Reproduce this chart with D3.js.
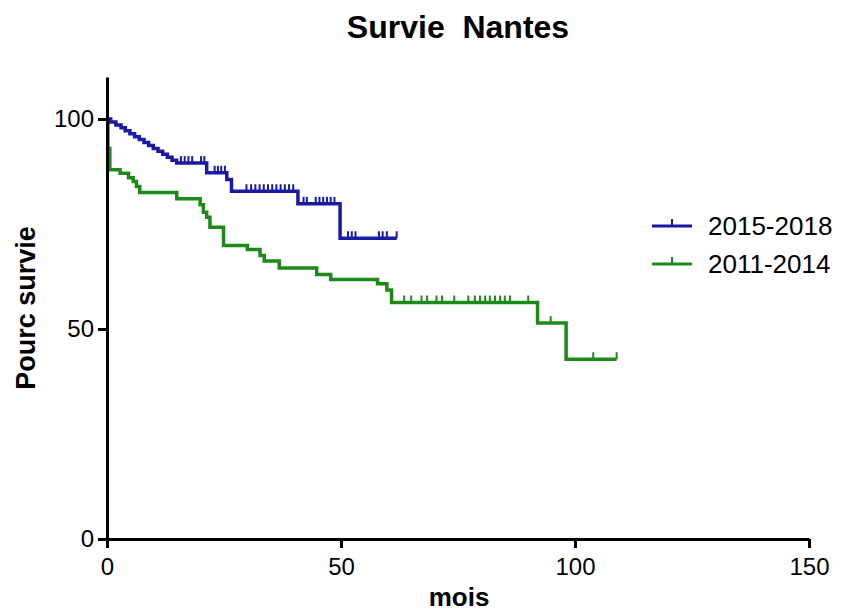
<!DOCTYPE html>
<html>
<head>
<meta charset="utf-8">
<script src="https://cdn.jsdelivr.net/npm/d3@7"></script>
<style>
  body { margin: 0; background: #fff; }
  text { font-family: "Liberation Sans", Arial, sans-serif; }
</style>
</head>
<body>
<svg id="chart" width="843" height="615"></svg>
<script>
// survival steps: time (mois) and % survival after the step
let blueTimes = [0, 0.8, 1.9, 3.0, 3.9, 4.9, 5.9, 6.9, 7.9, 8.9, 9.9, 10.9, 11.9, 12.9, 13.9, 14.9, 21.3, 25.6, 26.6, 40.8, 49.8];
let blueSurv  = [100, 99.3, 98.6, 97.9, 97.2, 96.5, 95.8, 95.1, 94.4, 93.7, 93.0, 92.3, 91.6, 90.9, 90.2, 89.5, 87.2, 85.6, 82.8, 79.8, 71.6];
let blueEnd = 61.9;
let blueCensor = [15.8, 16.6, 17.4, 18.2, 20.1, 20.8, 23.0, 23.7, 24.4, 25.2,
  29.8, 30.8, 31.7, 32.6, 33.5, 34.4, 35.3, 36.2, 37.1, 38.0, 38.9, 39.8,
  42.0, 42.7, 44.6, 45.4, 46.2, 47.0, 47.8, 48.6,
  51.5, 52.3, 53.1, 58.1, 58.9, 59.8, 61.9];

let greenTimes = [0, 0.2, 0.6, 2.8, 4.6, 5.6, 6.3, 7.0, 14.9, 19.9, 20.6, 21.3, 22.0, 24.9, 30.0, 32.7, 33.6, 36.8, 44.8, 47.8, 57.8, 59.8, 60.8, 92.0, 98.1];
let greenSurv  = [100, 93.0, 87.9, 87.1, 86.0, 85.1, 83.9, 82.5, 81.0, 79.6, 77.8, 76.6, 74.2, 69.9, 68.9, 67.5, 66.2, 64.5, 63.0, 61.8, 60.8, 59.3, 56.3, 51.4, 42.8];
let greenEnd = 108.9;
let greenCensor = [63.5, 65.0, 67.2, 68.4, 70.4, 71.6, 74.2, 77.2, 78.6, 79.7, 80.8, 81.8, 82.9, 84.0, 85.0, 86.1, 90.0,
  94.8, 103.9, 108.9];

let xTicks = [0, 50, 100, 150];
let yTicks = [0, 50, 100];

let series = [
  {name: '2015-2018', color: '#1a1aa2', times: blueTimes, surv: blueSurv, end: blueEnd, censor: blueCensor},
  {name: '2011-2014', color: '#1b8a1b', times: greenTimes, surv: greenSurv, end: greenEnd, censor: greenCensor}
];

let svg = d3.select('#chart');
let x = d3.scaleLinear().domain([0, 150]).range([107, 809]);
let y = d3.scaleLinear().domain([0, 110]).range([539, 77]);

let line = d3.line()
  .x(function(d) { return x(d[0]); })
  .y(function(d) { return y(d[1]); })
  .curve(d3.curveStepAfter);

function survAt(s, t) {
  let v = s.surv[0];
  for (let i = 0; i < s.times.length; i++) {
    if (s.times[i] <= t) v = s.surv[i];
  }
  return v;
}

// draw green first so blue sits on top
series.slice().reverse().forEach(function(s) {
  let pts = s.times.map(function(t, i) { return [t, s.surv[i]]; });
  pts.push([s.end, s.surv[s.surv.length - 1]]);
  let g = svg.append('g');
  g.append('path')
    .attr('d', line(pts))
    .attr('fill', 'none')
    .attr('stroke', s.color)
    .attr('stroke-width', 3.5);
  g.selectAll('line.censor')
    .data(s.censor)
    .enter().append('line')
      .attr('class', 'censor')
      .attr('x1', function(d) { return x(d); })
      .attr('x2', function(d) { return x(d); })
      .attr('y1', function(d) { return y(survAt(s, d)); })
      .attr('y2', function(d) { return y(survAt(s, d)) - 7; })
      .attr('stroke', s.color)
      .attr('stroke-width', 2);
});

// axes
let xAxis = svg.append('g')
  .attr('transform', 'translate(0,' + y(0) + ')')
  .call(d3.axisBottom(x).tickValues(xTicks).tickSize(9).tickPadding(10).tickSizeOuter(0));
let yAxis = svg.append('g')
  .attr('transform', 'translate(' + x(0) + ',0)')
  .call(d3.axisLeft(y).tickValues(yTicks).tickSize(9).tickPadding(4).tickSizeOuter(0));

[xAxis, yAxis].forEach(function(a) {
  a.select('.domain').attr('stroke', '#000').attr('stroke-width', 3);
  a.selectAll('.tick line').attr('stroke', '#000').attr('stroke-width', 3);
  a.selectAll('.tick text')
    .attr('fill', '#000')
    .style('font-family', '"Liberation Sans", Arial, sans-serif')
    .style('font-size', '24px');
});

// titles
svg.append('text')
  .attr('x', 458).attr('y', 38)
  .attr('text-anchor', 'middle')
  .style('font-size', '32px').style('font-weight', 'bold')
  .style('white-space', 'pre')
  .text('Survie  Nantes');

svg.append('text')
  .attr('x', 459).attr('y', 606)
  .attr('text-anchor', 'middle')
  .style('font-size', '26px').style('font-weight', 'bold')
  .text('mois');

svg.append('text')
  .attr('transform', 'translate(35,308) rotate(-90)')
  .attr('text-anchor', 'middle')
  .style('font-size', '27px').style('font-weight', 'bold')
  .text('Pourc survie');

// legend
let legend = svg.selectAll('g.legend')
  .data(series)
  .enter().append('g')
    .attr('class', 'legend')
    .attr('transform', function(d, i) { return 'translate(652,' + (226 + i * 38) + ')'; });
legend.append('line')
  .attr('x1', 0).attr('x2', 40).attr('y1', 0).attr('y2', 0)
  .attr('stroke', function(d) { return d.color; })
  .attr('stroke-width', 3);
legend.append('line')
  .attr('x1', 20).attr('x2', 20).attr('y1', 0).attr('y2', -7)
  .attr('stroke', function(d) { return d.color; })
  .attr('stroke-width', 2);
legend.append('text')
  .attr('x', 56).attr('y', 9)
  .style('font-size', '26px')
  .text(function(d) { return d.name; });
</script>
</body>
</html>
